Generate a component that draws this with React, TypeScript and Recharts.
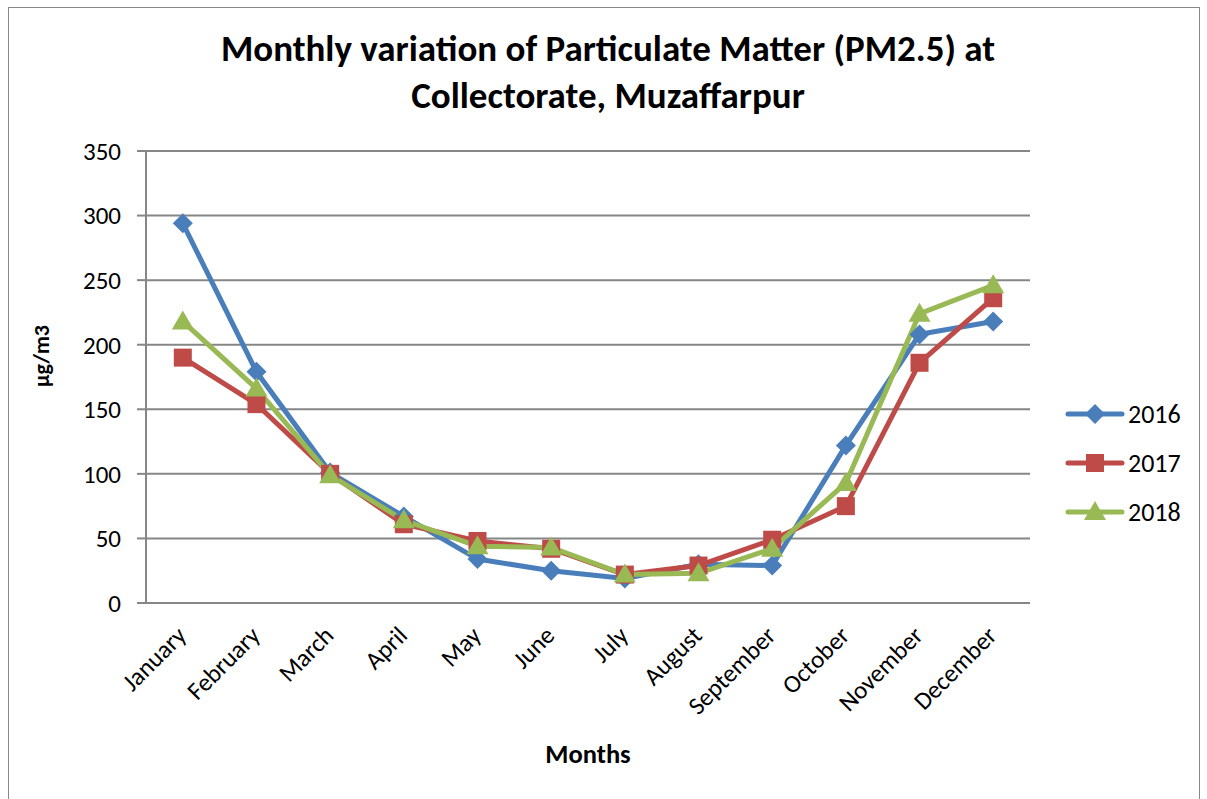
import React from 'react';
import { LineChart, Line, XAxis, YAxis, CartesianGrid, Legend, Label } from 'recharts';

// monthly PM2.5 (µg/m3)
const months = ['January', 'February', 'March', 'April', 'May', 'June', 'July', 'August', 'September', 'October', 'November', 'December'];
const pm2016 = [294, 179, 101, 67, 34, 25, 19, 30, 29, 122, 208, 218];
const pm2017 = [190, 154, 100, 61, 48, 42, 22, 29, 49, 75, 186, 236];
const pm2018 = [218, 166, 99, 64, 44, 43, 22, 23, 42, 93, 224, 246];
const yTicks = [0, 50, 100, 150, 200, 250, 300, 350];

const series = [
  { key: 'y2016', name: '2016', color: '#4A7EBB', shape: 'diamond', values: pm2016 },
  { key: 'y2017', name: '2017', color: '#BE4B48', shape: 'square', values: pm2017 },
  { key: 'y2018', name: '2018', color: '#98B954', shape: 'triangle', values: pm2018 },
];

const data = months.map((m, i) => {
  const row: Record<string, string | number> = { month: m };
  series.forEach((s) => { row[s.key] = s.values[i]; });
  return row;
});

const FONT = 'Calibri, Carlito, "Liberation Sans Narrow", "Open Sans", sans-serif';
const GRID = '#868686';

function Marker({ shape, cx, cy, color }: { shape: string; cx: number; cy: number; color: string }) {
  if (cx == null || cy == null) return null;
  if (shape === 'diamond') {
    const r = 10;
    return <polygon points={`${cx},${cy - r} ${cx + r},${cy} ${cx},${cy + r} ${cx - r},${cy}`} fill={color} />;
  }
  if (shape === 'square') {
    const h = 9;
    return <rect x={cx - h} y={cy - h} width={h * 2} height={h * 2} fill={color} />;
  }
  const w = 11;
  return <polygon points={`${cx},${cy - 11} ${cx + w},${cy + 8} ${cx - w},${cy + 8}`} fill={color} />;
}

const MonthTick = (props: any) => {
  const { x, y, payload } = props;
  return (
    <text
      x={0}
      y={0}
      transform={`translate(${x + 5},${y + 26}) rotate(-45)`}
      textAnchor="end"
      fontSize={25}
      fontFamily={FONT}
      fill="#000"
    >
      {payload.value}
    </text>
  );
};

const renderLegend = () => (
  <div style={{ fontFamily: FONT, fontSize: 26 }}>
    {series.map((s) => (
      <div key={s.key} style={{ display: 'flex', alignItems: 'center', height: 49 }}>
        <svg width={62} height={24}>
          <line x1={4} y1={12} x2={58} y2={12} stroke={s.color} strokeWidth={5} strokeLinecap="round" />
          <Marker shape={s.shape} cx={31} cy={12} color={s.color} />
        </svg>
        <span style={{ marginLeft: 2 }}>{s.name}</span>
      </div>
    ))}
  </div>
);

export default function App() {
  return (
    <div style={{ position: 'absolute', left: 0, top: 0, width: 1207, height: 799, background: '#fff', overflow: 'hidden' }}>
      <div style={{ position: 'absolute', left: 8, top: 7, width: 1192, height: 800, border: '1.5px solid #888', boxSizing: 'border-box' }} />
      <div
        style={{
          position: 'absolute', left: 0, top: 25, width: 1216, textAlign: 'center',
          fontFamily: FONT, fontWeight: 'bold', fontSize: 37, lineHeight: '47px', color: '#000',
        }}
      >
        Monthly variation of Particulate Matter (PM2.5) at<br />Collectorate, Muzaffarpur
      </div>
      <div style={{ position: 'absolute', left: 0, top: 0 }}>
        <LineChart width={1207} height={799} data={data} margin={{ top: 151, right: 177, left: 0, bottom: 0 }}>
          <CartesianGrid vertical={false} stroke={GRID} strokeWidth={2} />
          <XAxis
            dataKey="month"
            height={196}
            interval={0}
            tickLine={false}
            axisLine={{ stroke: GRID, strokeWidth: 2 }}
            padding={{ left: 36.8, right: 36.8 }}
            tick={<MonthTick />}
          >
            <Label value="Months" position="insideBottom" offset={36} fontFamily={FONT} fontWeight="bold" fontSize={26.5} fill="#000" />
          </XAxis>
          <YAxis
            width={146}
            domain={[0, 350]}
            ticks={yTicks}
            interval={0}
            tickSize={9}
            tickMargin={16}
            tickLine={{ stroke: GRID, strokeWidth: 2 }}
            axisLine={{ stroke: GRID, strokeWidth: 2 }}
            tick={{ fontSize: 25, fontFamily: FONT, fill: '#000' }}
          >
            <Label
              content={() => (
                <text
                  x={0}
                  y={0}
                  transform="translate(49,356) rotate(-90)"
                  textAnchor="middle"
                  fontFamily={FONT}
                  fontWeight="bold"
                  fontSize={22}
                  fill="#000"
                >
                  µg/m3
                </text>
              )}
            />
          </YAxis>
          <Legend
            layout="vertical"
            align="center"
            verticalAlign="middle"
            content={renderLegend}
            wrapperStyle={{ left: 1064, top: 389, width: 143 }}
          />
          {series.map((s) => (
            <Line
              key={s.key}
              type="linear"
              dataKey={s.key}
              name={s.name}
              stroke={s.color}
              strokeWidth={5}
              isAnimationActive={false}
              activeDot={false}
              dot={(p: any) => <Marker key={`${s.key}-${p.index}`} shape={s.shape} cx={p.cx} cy={p.cy} color={s.color} />}
            />
          ))}
        </LineChart>
      </div>
    </div>
  );
}
